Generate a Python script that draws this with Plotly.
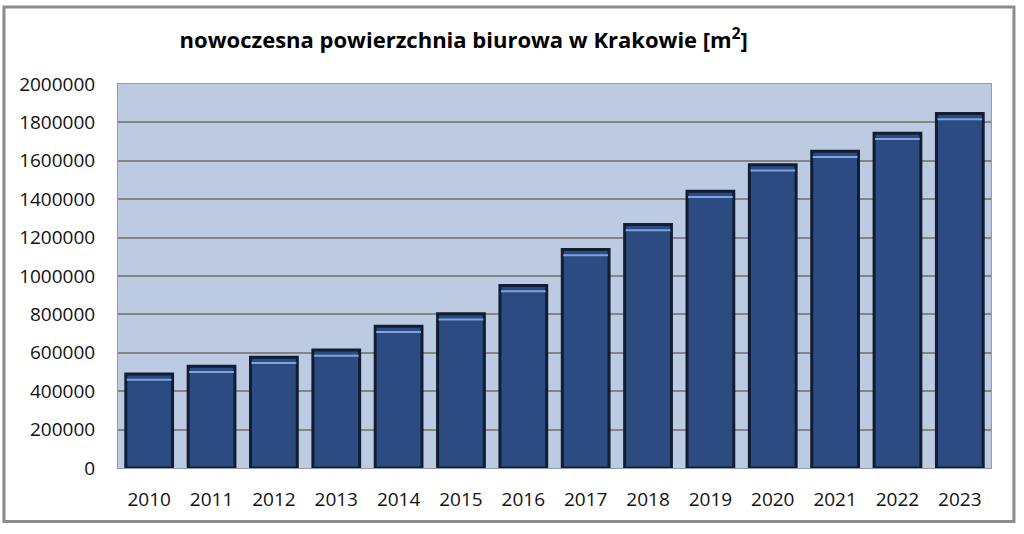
import plotly.graph_objects as go

# dane: nowoczesna powierzchnia biurowa w Krakowie [m2]
years = ['2010', '2011', '2012', '2013', '2014', '2015', '2016',
         '2017', '2018', '2019', '2020', '2021', '2022', '2023']
area = [490000, 530000, 577000, 615000, 738000, 803000, 950000,
        1138000, 1268000, 1441000, 1580000, 1650000, 1743000, 1847000]
y_ticks = [0, 200000, 400000, 600000, 800000, 1000000, 1200000,
           1400000, 1600000, 1800000, 2000000]

# przesuniecie jasnej krawedzi (efekt wypuklosci slupka)
shine_offset = 30000

fig = go.Figure()

fig.add_trace(go.Bar(
    x=years, y=area,
    marker=dict(color='#2c4b80', line=dict(color='#111d33', width=3)),
    hoverinfo='x+y',
))

fig.add_trace(go.Scatter(
    x=years, y=[v - shine_offset for v in area],
    mode='markers',
    marker=dict(symbol='line-ew', size=32, line=dict(color='#7ea3df', width=2)),
    hoverinfo='skip',
))

fig.update_layout(
    width=1024, height=534,
    showlegend=False,
    paper_bgcolor='white',
    plot_bgcolor='#bdcbe2',
    bargap=0.25,
    margin=dict(l=118, r=33, t=84, b=66),
    font=dict(family='Open Sans, sans-serif', size=19, color='#111111'),
    title=dict(
        text='<b>nowoczesna powierzchnia biurowa w Krakowie [m<sup>2</sup>]</b>',
        x=0.396, xref='paper', xanchor='center',
        y=0.924, yanchor='middle',
        font=dict(size=22, color='#000000'),
    ),
    xaxis=dict(
        range=[-0.5, len(years) - 0.5],
        showgrid=False, ticks='', ticklabelstandoff=14,
        showline=True, linecolor='#8e9bb0', linewidth=1,
        mirror=True,
    ),
    yaxis=dict(
        range=[0, 2000000], tickvals=y_ticks,
        tickformat='d', ticks='', ticklabelstandoff=18,
        showgrid=True, gridcolor='#848484', gridwidth=2,
        showline=True, linecolor='#8e9bb0', linewidth=1,
        mirror=True, zeroline=False,
    ),
    shapes=[dict(
        type='rect', xref='paper', yref='paper',
        x0=-0.1306, x1=1.0263, y0=-0.139, y1=1.2005,
        line=dict(color='#8c8c8c', width=3), layer='below',
    )],
)

fig.write_html('out.html', config={'displayModeBar': False},
               post_script="document.body.style.margin='0';")
